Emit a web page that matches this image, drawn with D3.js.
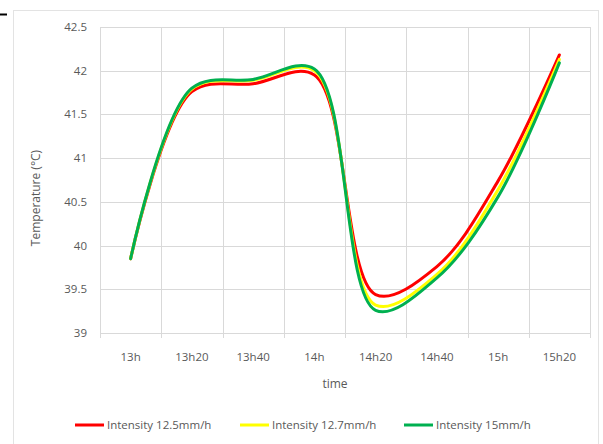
<!DOCTYPE html>
<html><head><meta charset="utf-8">
<script src="https://cdn.jsdelivr.net/npm/d3@7"></script>
<style>
html,body{margin:0;padding:0;background:#fff;}
svg{display:block;}
text{font-family:"Open Sans",sans-serif;fill:#595959;}
</style></head>
<body>
<svg id="chart" width="603" height="444"></svg>
<script>
const categories = ["13h","13h20","13h40","14h","14h20","14h40","15h","15h20"];
const red    = [39.85, 41.76, 41.85, 41.95, 39.44, 39.76, 40.74, 42.18];
const yellow = [39.85, 41.79, 41.89, 42.00, 39.32, 39.67, 40.64, 42.13];
const green  = [39.85, 41.80, 41.90, 42.02, 39.26, 39.63, 40.56, 42.09];
const seriesNames = ["Intensity 12.5mm/h","Intensity 12.7mm/h","Intensity 15mm/h"];
const seriesColors = ["#ff0000","#ffff00","#00b050"];
const yTicks = [39, 39.5, 40, 40.5, 41, 41.5, 42, 42.5];

const svg = d3.select("#chart");
const grid = "#d9d9d9";

// outer chart border and corner mark
svg.append("rect").attr("x",13.5).attr("y",10.5).attr("width",585).attr("height",440)
  .attr("fill","none").attr("stroke","#e3e3e3");
svg.append("line").attr("x1",0).attr("x2",7).attr("y1",14.5).attr("y2",14.5)
  .attr("stroke","#000").attr("stroke-width",2);

const x = d3.scaleBand().domain(categories).range([100,590]);
const y = d3.scaleLinear().domain([39,42.5]).range([333,27]);

// horizontal gridlines
svg.append("g").selectAll("line").data(yTicks).join("line")
  .attr("x1",100).attr("x2",590)
  .attr("y1",d=>Math.round(y(d))+0.5).attr("y2",d=>Math.round(y(d))+0.5)
  .attr("stroke",grid);
// vertical gridlines at category boundaries
const bounds = categories.map(c=>x(c)).concat([x.range()[1]]);
svg.append("g").selectAll("line").data(bounds).join("line")
  .attr("x1",d=>Math.round(d)+0.5).attr("x2",d=>Math.round(d)+0.5)
  .attr("y1",y(42.5)).attr("y2",y(39)+5)
  .attr("stroke",grid);

// y labels
svg.append("g").selectAll("text").data(yTicks).join("text")
  .attr("x",87).attr("y",d=>y(d)+4).attr("text-anchor","end")
  .attr("font-size",11.5).text(d=>d);
// x labels
svg.append("g").selectAll("text").data(categories).join("text")
  .attr("x",d=>x(d)+x.bandwidth()/2).attr("y",361).attr("text-anchor","middle")
  .attr("font-size",11.5).text(d=>d);
// axis titles
svg.append("text").attr("x",335).attr("y",388).attr("text-anchor","middle")
  .attr("font-size",12).text("time");
svg.append("text").attr("transform","translate(40,198) rotate(-90)")
  .attr("text-anchor","middle").attr("font-size",12).text("Temperature (°C)");

// lines
const line = d3.line()
  .x((d,i)=>x(categories[i])+x.bandwidth()/2)
  .y(d=>y(d))
  .curve(d3.curveCatmullRom.alpha(0.5));
[red,yellow,green].forEach((s,k)=>{
  svg.append("path").datum(s).attr("d",line)
    .attr("fill","none").attr("stroke",seriesColors[k]).attr("stroke-width",3)
    .attr("stroke-linecap","round").attr("stroke-linejoin","round");
});

// legend
const legX = [75,240,404];
seriesNames.forEach((n,k)=>{
  svg.append("line").attr("x1",legX[k]).attr("x2",legX[k]+29)
    .attr("y1",425).attr("y2",425).attr("stroke",seriesColors[k]).attr("stroke-width",3);
  svg.append("text").attr("x",legX[k]+32).attr("y",429).attr("font-size",11.5).text(n);
});
</script>
</body></html>
